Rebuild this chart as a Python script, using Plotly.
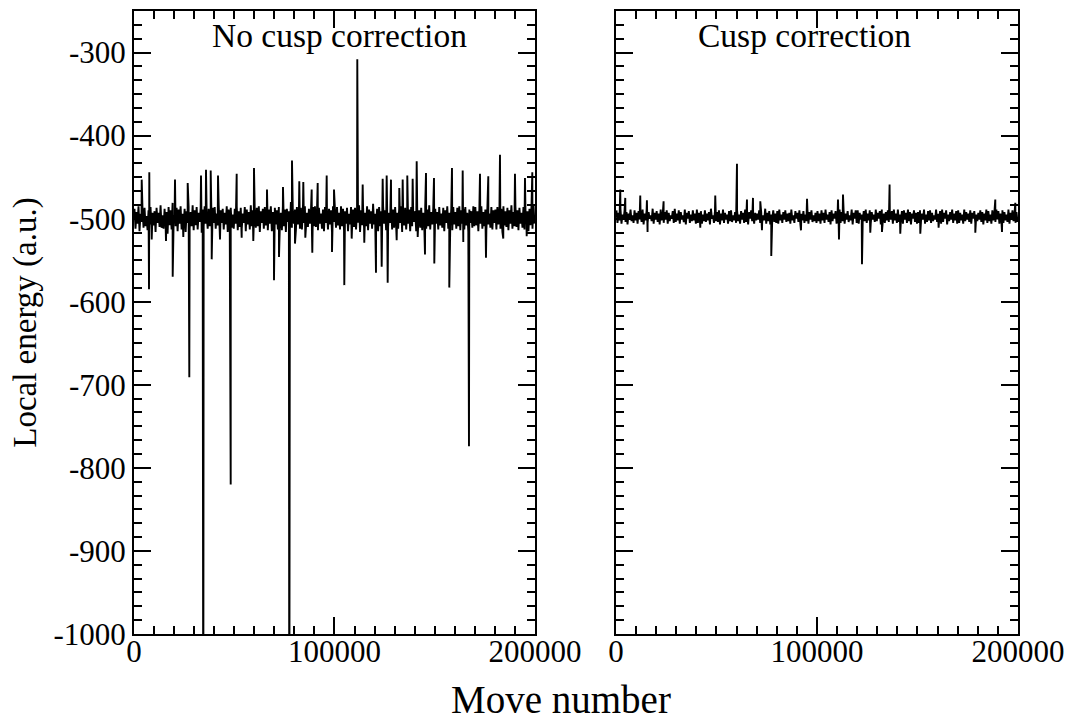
import plotly.graph_objects as go

# ---------------- data ----------------
step = 500  # move-number spacing of the sampled band values
left_base_y = [
    -488, -512, -492, -506, -485, -515, -494, -504, -489, -511, -487, -509, -497, -514, -490, -507, -486, -513, -493, -508,
    -491, -516, -487, -505, -493, -510, -484, -511, -496, -512, -488, -507, -492, -518, -486, -508, -490, -513, -481, -506,
    -495, -509, -487, -515, -489, -506, -485, -513, -494, -508, -488, -516, -491, -505, -486, -512, -492, -509, -484, -514,
    -490, -508, -486, -513, -493, -504, -487, -517, -489, -509, -485, -506, -496, -512, -488, -509, -491, -515, -487, -505,
    -486, -512, -494, -508, -484, -515, -490, -505, -488, -513, -493, -507, -485, -516, -489, -504, -487, -511, -495, -512,
    -488, -506, -485, -514, -491, -510, -487, -512, -494, -505, -486, -515, -489, -507, -492, -513, -484, -509, -490, -506,
    -493, -511, -487, -509, -485, -516, -491, -505, -488, -512, -486, -508, -494, -514, -489, -506, -485, -515, -492, -509,
    -487, -507, -490, -513, -486, -508, -493, -514, -485, -509, -489, -516, -488, -504, -491, -512, -480, -511, -495, -506,
    -489, -514, -486, -507, -492, -512, -487, -513, -490, -505, -485, -511, -493, -510, -488, -506, -491, -517, -486, -509,
    -485, -510, -491, -514, -487, -506, -494, -512, -489, -515, -486, -505, -492, -513, -488, -507, -490, -516, -485, -504,
    -490, -511, -486, -508, -493, -513, -485, -509, -488, -514, -491, -506, -487, -515, -494, -507, -486, -512, -489, -510,
    -487, -513, -492, -505, -484, -516, -490, -508, -486, -511, -493, -509, -485, -514, -489, -506, -491, -512, -482, -507,
    -494, -508, -488, -515, -486, -509, -491, -512, -485, -506, -490, -514, -487, -510, -493, -505, -486, -513, -489, -511,
    -486, -509, -493, -512, -488, -505, -485, -516, -491, -508, -487, -513, -494, -506, -489, -515, -486, -509, -492, -504,
    -491, -515, -485, -507, -490, -511, -487, -514, -493, -506, -486, -512, -489, -509, -484, -513, -492, -507, -488, -516,
    -488, -506, -492, -513, -486, -508, -494, -511, -487, -515, -490, -505, -485, -512, -493, -509, -488, -514, -486, -507,
    -492, -512, -487, -509, -485, -514, -490, -506, -488, -513, -486, -508, -493, -516, -489, -505, -491, -511, -485, -509,
    -486, -508, -491, -515, -488, -506, -485, -512, -492, -509, -489, -514, -487, -507, -494, -511, -486, -513, -490, -505,
    -489, -513, -486, -507, -493, -512, -488, -516, -485, -508, -491, -510, -487, -514, -490, -506, -484, -512, -492, -509,
    -485, -510, -490, -514, -487, -506, -493, -511, -486, -513, -489, -507, -491, -515, -488, -508, -486, -512, -483, -506,
]
right_base_y = [
    -490, -505, -493, -502, -488, -506, -495, -501, -491, -504, -492, -507, -494, -500, -489, -503, -496, -505, -490, -502,
    -493, -506, -491, -501, -495, -504, -489, -507, -494, -502, -490, -505, -492, -500, -496, -503, -488, -506, -493, -501,
    -491, -504, -494, -507, -489, -502, -495, -505, -492, -501, -490, -506, -493, -503, -496, -500, -491, -505, -488, -504,
    -494, -502, -490, -506, -492, -501, -496, -504, -489, -507, -493, -500, -491, -505, -495, -503, -490, -502, -494, -506,
    -489, -505, -493, -501, -491, -506, -495, -503, -490, -504, -494, -502, -492, -507, -488, -500, -496, -505, -491, -503,
    -492, -504, -490, -507, -494, -502, -489, -505, -493, -501, -495, -506, -491, -503, -490, -504, -496, -502, -492, -505,
    -490, -503, -495, -506, -491, -501, -493, -505, -489, -504, -494, -507, -492, -500, -490, -503, -495, -506, -493, -502,
    -494, -501, -490, -505, -492, -504, -496, -502, -488, -506, -493, -503, -491, -507, -495, -500, -490, -504, -494, -505,
    -491, -506, -489, -502, -495, -505, -492, -501, -490, -504, -494, -503, -493, -506, -489, -502, -496, -505, -491, -500,
    -493, -504, -490, -507, -494, -502, -491, -505, -495, -503, -489, -506, -492, -501, -490, -504, -496, -503, -493, -505,
    -491, -503, -494, -506, -490, -502, -493, -505, -489, -501, -495, -504, -492, -507, -490, -503, -494, -500, -491, -506,
    -495, -502, -489, -505, -492, -503, -490, -506, -494, -501, -491, -504, -496, -502, -489, -507, -493, -500, -490, -505,
    -490, -506, -493, -501, -495, -504, -491, -503, -489, -505, -494, -502, -490, -506, -492, -501, -495, -504, -489, -503,
    -493, -500, -491, -507, -489, -503, -494, -505, -492, -502, -490, -504, -495, -501, -491, -506, -489, -502, -494, -505,
    -489, -504, -495, -502, -491, -506, -490, -501, -493, -505, -489, -503, -492, -507, -494, -500, -490, -504, -493, -506,
    -492, -505, -490, -503, -494, -501, -489, -506, -495, -504, -491, -502, -490, -505, -493, -503, -496, -501, -489, -504,
    -494, -502, -491, -506, -489, -504, -493, -500, -490, -507, -495, -503, -492, -501, -489, -505, -494, -502, -491, -506,
    -490, -505, -493, -502, -495, -506, -489, -503, -492, -501, -494, -504, -490, -506, -493, -500, -491, -505, -495, -503,
    -493, -501, -490, -504, -492, -507, -494, -502, -489, -505, -491, -503, -495, -506, -490, -502, -493, -504, -489, -501,
    -491, -506, -494, -503, -490, -505, -492, -502, -495, -504, -489, -506, -493, -501, -490, -503, -494, -505, -492, -504,
]

left_spike_x = [
    3840, 7630, 20450, 26780, 33420, 35910, 38250, 41900, 51220, 59850, 66330, 74310, 78800,
    82450, 84450, 88620, 91620, 96110, 99750, 111370, 114060, 124030, 126030, 128180, 132320,
    134010, 136310, 138990, 141000, 145640, 149630, 158600, 163940, 172570, 176710, 182540,
    190020, 195010, 198660,
    7480, 19300, 27580, 34560, 38750, 48230, 69830, 72320, 77460, 88930, 98750, 104890,
    120700, 123540, 126530, 145140, 149780, 157260, 167080, 175560,
    8830, 15960, 24590, 42890, 53710, 59500, 80300, 85450, 108580, 114860, 131020, 141500,
    164240, 184190, 195860,
]
left_spike_y = [
    -453, -444, -453, -457, -448, -441, -442, -448, -446, -439, -465, -462, -430,
    -455, -456, -465, -457, -448, -465, -308, -459, -452, -448, -453, -463,
    -453, -448, -452, -431, -445, -451, -439, -442, -446, -449, -423,
    -446, -451, -444,
    -585, -570, -691, -1200, -549, -820, -574, -546, -1200, -541, -540, -580,
    -565, -558, -577, -543, -554, -583, -774, -547,
    -525, -527, -522, -525, -523, -527, -530, -523, -524, -529, -526, -522,
    -528, -524, -521,
]

right_spike_x = [
    2140, 4630, 12090, 15400, 23700, 49400, 60200, 65170, 68160, 71800, 95050, 110450,
    112940, 136120, 188700, 198660,
    15720, 41940, 72630, 77260, 92040, 110950, 122390, 126520, 132330, 141440, 151390,
    160500, 178760, 192040,
]
right_spike_y = [
    -465, -475, -472, -478, -479, -472, -434, -477, -475, -479, -476, -477,
    -471, -459, -477, -481,
    -516, -511, -514, -545, -514, -525, -555, -517, -516, -518, -518,
    -511, -517, -516,
]

y_tick_vals = [-1000, -900, -800, -700, -600, -500, -400, -300]
y_tick_text = ["-1000", "-900", "-800", "-700", "-600", "-500", "-400", "-300"]
x_tick_vals = [0, 100000, 200000]
x_tick_text = ["0", "100000", "200000"]


def merged(base_y, sx, sy):
    pts = [(step / 2 + i * step, v) for i, v in enumerate(base_y)]
    pts += list(zip(sx, sy))
    pts.sort(key=lambda p: p[0])
    return [p[0] for p in pts], [p[1] for p in pts]


lx, ly = merged(left_base_y, left_spike_x, left_spike_y)
rx, ry = merged(right_base_y, right_spike_x, right_spike_y)

FONT = "Liberation Serif"

fig = go.Figure()
fig.add_trace(go.Scatter(x=lx, y=ly, mode="lines", line=dict(color="black", width=1.9, simplify=False),
                         xaxis="x", yaxis="y", showlegend=False, hoverinfo="skip"))
fig.add_trace(go.Scatter(x=rx, y=ry, mode="lines", line=dict(color="black", width=1.9, simplify=False),
                         xaxis="x2", yaxis="y2", showlegend=False, hoverinfo="skip"))

common_x = dict(range=[0, 200000], tickvals=x_tick_vals, ticktext=x_tick_text,
                ticks="inside", ticklen=17, tickwidth=1.5, tickcolor="black",
                showline=True, linewidth=2, linecolor="black", mirror="allticks",
                showgrid=False, zeroline=False, ticklabelstandoff=-11,
                minor=dict(dtick=10000, tick0=0, ticks="inside", ticklen=8, tickwidth=1.5,
                           tickcolor="black", showgrid=False),
                tickfont=dict(family=FONT, size=31, color="black"))
common_y = dict(range=[-1000, -250], tickvals=y_tick_vals,
                ticks="inside", ticklen=17, tickwidth=1.5, tickcolor="black",
                showline=True, linewidth=2, linecolor="black", mirror="allticks",
                showgrid=False, zeroline=False,
                minor=dict(dtick=100 / 6, tick0=-1000, ticks="inside", ticklen=8, tickwidth=1.5,
                           tickcolor="black", showgrid=False),
                tickfont=dict(family=FONT, size=31, color="black"))

fig.update_layout(
    width=1071, height=722,
    margin=dict(l=134, r=53, t=11, b=88, autoexpand=False),
    paper_bgcolor="white", plot_bgcolor="white",
    font=dict(family=FONT, color="black"),
    xaxis=dict(domain=[0, 0.4536], anchor="y", **common_x),
    xaxis2=dict(domain=[0.5452, 1.0], anchor="y2", **common_x),
    yaxis=dict(domain=[0, 1], anchor="x", ticktext=y_tick_text, **common_y),
    yaxis2=dict(domain=[0, 1], anchor="x2", showticklabels=False, **common_y),
    annotations=[
        dict(text="No cusp correction", xref="x domain", yref="y domain", x=0.513, y=0.96,
             xanchor="center", yanchor="middle", showarrow=False,
             font=dict(family=FONT, size=33.5, color="black")),
        dict(text="Cusp correction", xref="x2 domain", yref="y2 domain", x=0.47, y=0.96,
             xanchor="center", yanchor="middle", showarrow=False,
             font=dict(family=FONT, size=33.5, color="black")),
        dict(text="Move number", xref="paper", yref="paper", x=0.483, y=-0.105,
             xanchor="center", yanchor="middle", showarrow=False,
             font=dict(family=FONT, size=39, color="black")),
        dict(text="Local energy (a.u.)", xref="paper", yref="paper", x=-0.123, y=0.5,
             xanchor="center", yanchor="middle", textangle=-90, showarrow=False,
             font=dict(family=FONT, size=33, color="black")),
    ],
)

fig.write_html("out.html", config={"displayModeBar": False},
               post_script="document.body.style.margin='0px';document.body.style.overflow='hidden';")
